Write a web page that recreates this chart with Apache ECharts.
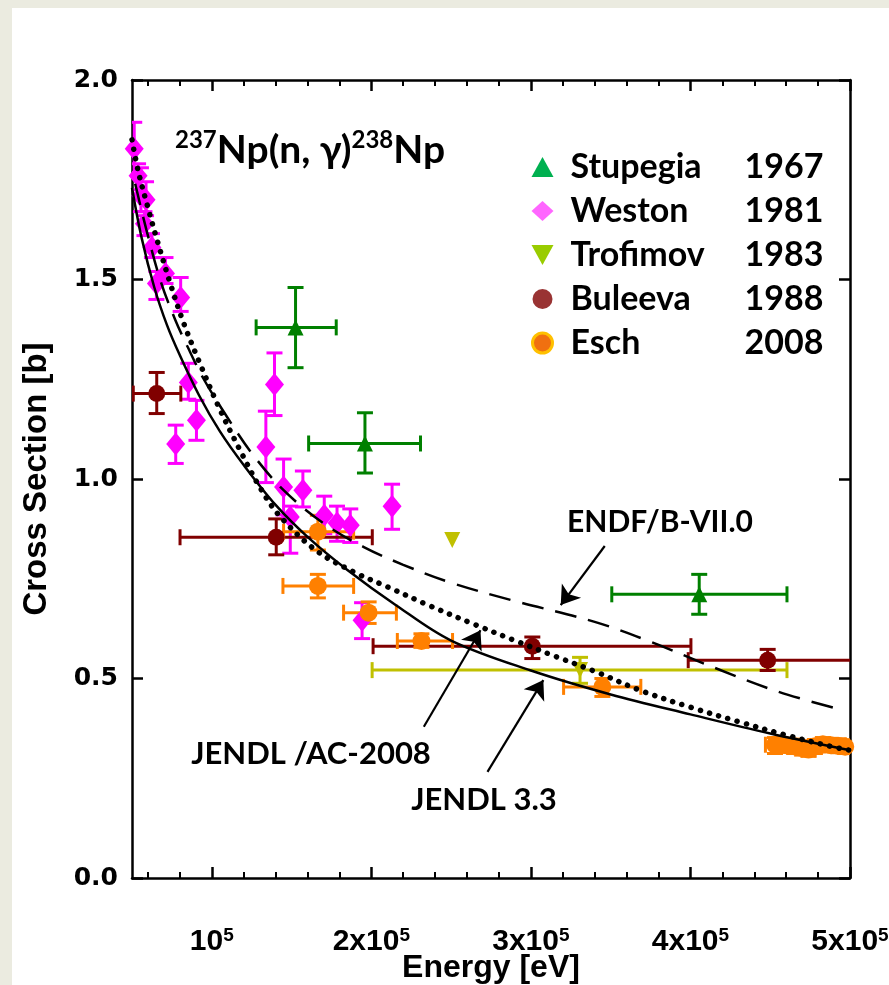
<!DOCTYPE html>
<html><head><meta charset="utf-8">
<script src="https://cdn.jsdelivr.net/npm/echarts@6/dist/echarts.min.js"></script>
<style>
html,body{margin:0;padding:0;background:#ebebe0;width:889px;height:985px;overflow:hidden;}
#bg{position:absolute;left:12px;top:8px;right:0;bottom:0;background:#fff;}
#chart{position:absolute;left:0;top:0;width:889px;height:985px;}
</style></head>
<body><div id="bg"></div><div id="chart"></div>
<script>
// ---- data ----
// [energy, sigma, xlo, xhi, ylo, yhi]
const stupegia = [
  [152500, 1.38, 127800, 178000, 1.279, 1.480],
  [196000, 1.089, 160700, 230800, 1.015, 1.166],
  [405500, 0.711, 350700, 460500, 0.661, 0.761]
];
// [energy, sigma, ylo, yhi]
const weston = [
  [51400, 1.828, 1.768, 1.894],
  [53800, 1.760, 1.725, 1.790],
  [55600, 1.710, 1.670, 1.780],
  [58800, 1.700, 1.660, 1.745],
  [57800, 1.640, 1.610, 1.670],
  [62500, 1.580, 1.555, 1.615],
  [65300, 1.490, 1.450, 1.520],
  [71000, 1.515, 1.490, 1.555],
  [80500, 1.455, 1.420, 1.505],
  [85300, 1.242, 1.200, 1.290],
  [90400, 1.147, 1.097, 1.197],
  [77400, 1.088, 1.039, 1.135],
  [139300, 1.237, 1.159, 1.316],
  [133900, 1.080, 0.991, 1.170],
  [145000, 0.980, 0.910, 1.050],
  [157100, 0.972, 0.930, 1.020],
  [149200, 0.905, 0.814, 0.932],
  [170500, 0.909, 0.863, 0.957],
  [178500, 0.890, 0.844, 0.932],
  [186800, 0.884, 0.841, 0.925],
  [213000, 0.932, 0.874, 0.987],
  [194200, 0.646, 0.600, 0.690]
];
const trofimov = [
  [250700, 0.847, 250700, 250700, 0.847, 0.847],
  [330800, 0.521, 200500, 460500, 0.488, 0.553]
];
const buleeva = [
  [65500, 1.214, 50800, 80600, 1.164, 1.267],
  [140400, 0.854, 80100, 200600, 0.810, 0.900],
  [300900, 0.581, 201100, 400300, 0.550, 0.604],
  [448400, 0.546, 398600, 505000, 0.520, 0.573]
];
const esch = [
  [166500, 0.868, 145000, 188900, 0.822, 0.909],
  [166500, 0.732, 144600, 188900, 0.702, 0.761],
  [198300, 0.665, 182600, 215700, 0.638, 0.692],
  [231400, 0.594, 216300, 250900, 0.578, 0.612],
  [344800, 0.479, 320500, 368900, 0.455, 0.500],
  [453000, 0.334, 447000, 458000, 0.312, 0.352],
  [460000, 0.333, 456000, 464000, 0.315, 0.350],
  [465000, 0.330, 461000, 469000, 0.312, 0.348],
  [470000, 0.326, 467000, 474000, 0.308, 0.344],
  [474000, 0.322, 470000, 478000, 0.305, 0.340],
  [478000, 0.330, 474000, 482000, 0.312, 0.347],
  [483000, 0.335, 479000, 487000, 0.318, 0.352],
  [488000, 0.333, 484000, 492000, 0.316, 0.350],
  [493000, 0.331, 489000, 497000, 0.314, 0.349],
  [497000, 0.329, 494000, 500000, 0.312, 0.346]
];
const jendl33 = [
  [50000, 1.73], [56000, 1.605], [64000, 1.48], [72000, 1.385], [80000, 1.31],
  [92000, 1.21], [105000, 1.12], [120000, 1.035], [140000, 0.935], [160000, 0.855],
  [185000, 0.772], [215000, 0.685], [250000, 0.595], [300000, 0.52], [350000, 0.46],
  [400000, 0.41], [450000, 0.362], [500000, 0.32]
];
const jendlAC = [
  [50000, 1.85], [54000, 1.77], [60000, 1.68], [66000, 1.595], [74000, 1.49],
  [82000, 1.395], [92000, 1.295], [105000, 1.175], [118000, 1.07], [130000, 0.98],
  [142000, 0.91], [165000, 0.822], [190000, 0.765], [210000, 0.73], [235000, 0.685],
  [265000, 0.635], [290000, 0.595], [315000, 0.556], [340000, 0.518], [370000, 0.468],
  [400000, 0.428], [430000, 0.392], [460000, 0.358], [490000, 0.328], [500000, 0.32]
];
const endf = [
  [52000, 1.74], [59000, 1.625], [68000, 1.495], [77000, 1.40], [85000, 1.33],
  [95000, 1.25], [110000, 1.153], [125000, 1.065], [145000, 0.972], [170000, 0.889],
  [195000, 0.83], [220000, 0.785], [250000, 0.74], [290000, 0.694], [340000, 0.642],
  [375000, 0.592], [415000, 0.527], [455000, 0.467], [495000, 0.421]
];
const legendNames = ['Stupegia', 'Weston', 'Trofimov', 'Buleeva', 'Esch'];
const legendYears = ['1967', '1981', '1983', '1988', '2008'];
const xMajorTicks = [100000, 200000, 300000, 400000, 500000];
const xMinorTicks = [60000, 80000, 120000, 140000, 160000, 180000, 220000, 240000, 260000, 280000,
  320000, 340000, 360000, 380000, 420000, 440000, 460000, 480000];

// ---- rendering ----
const chart = echarts.init(document.getElementById('chart'));
const AX = 'Liberation Sans';
const TXT = 'Lato, "DejaVu Sans", sans-serif';

function errRender(color, cap) {
  return function (params, api) {
    const x = api.value(0), y = api.value(1);
    const xl = api.value(2), xh = api.value(3), yl = api.value(4), yh = api.value(5);
    const st = { stroke: color, lineWidth: 3, fill: null };
    const ch = [];
    if (yl !== yh) {
      const a = api.coord([x, yl]), b = api.coord([x, yh]);
      ch.push({ type: 'line', shape: { x1: a[0], y1: a[1], x2: b[0], y2: b[1] }, style: st });
      ch.push({ type: 'line', shape: { x1: a[0] - cap, y1: a[1], x2: a[0] + cap, y2: a[1] }, style: st });
      ch.push({ type: 'line', shape: { x1: b[0] - cap, y1: b[1], x2: b[0] + cap, y2: b[1] }, style: st });
    }
    if (xl !== xh) {
      const a = api.coord([xl, y]), b = api.coord([xh, y]);
      ch.push({ type: 'line', shape: { x1: a[0], y1: a[1], x2: b[0], y2: b[1] }, style: st });
      ch.push({ type: 'line', shape: { x1: a[0], y1: a[1] - cap, x2: a[0], y2: a[1] + cap }, style: st });
      ch.push({ type: 'line', shape: { x1: b[0], y1: b[1] - cap, x2: b[0], y2: b[1] + cap }, style: st });
    }
    return { type: 'group', children: ch };
  };
}
function errSeries(name, data, color, cap) {
  return { type: 'custom', name: name + '-err', data: data, renderItem: errRender(color, cap),
    clip: true, z: 2, silent: true, encode: { x: 0, y: 1 } };
}
function ptSeries(name, data, color, symbol, size, rot) {
  return { type: 'scatter', name: name, data: data.map(d => [d[0], d[1]]), symbol: symbol,
    symbolSize: size, symbolRotate: rot || 0, itemStyle: { color: color, opacity: 1 }, z: 3, silent: true };
}
const westonErr = weston.map(d => [d[0], d[1], d[0], d[0], d[2], d[3]]);

const supFmt = v => {
  const m = Math.round(v / 100000);
  return (m === 1 ? '' : m + 'x') + '10{s|5}';
};
const xBase = { type: 'value', min: 50000, max: 500000, splitLine: { show: false } };
const lineCol = { lineStyle: { color: '#000', width: 2.5 } };

const legendColors = [
  { color: '#00b050' }, { color: '#ff66ff' }, { color: '#99cc00' }, { color: '#993333' },
  { color: '#f07010', borderColor: '#ffc000', borderWidth: 3 }
];
const legendIcons = ['triangle', 'diamond', 'path://M0,0 L10,0 L5,9 Z', 'circle', 'circle'];

const arrow = (a, b) => [{ coord: a, symbol: 'none' }, { coord: b, symbol: 'arrow' }];

chart.setOption({
  animation: false,
  grid: { left: 132, right: 39, top: 80, bottom: 107, outerBoundsMode: 'none', containLabel: false },
  xAxis: [
    Object.assign({}, xBase, { position: 'bottom', axisLine: Object.assign({ show: true }, lineCol),
      axisTick: { show: true, inside: true, length: 11, customValues: xMajorTicks, lineStyle: { color: '#000', width: 2.5 } },
      axisLabel: { show: true, customValues: xMajorTicks, margin: 48, formatter: supFmt,
        rich: { s: { fontSize: 19, fontWeight: 'bold', fontFamily: AX, verticalAlign: 'top', lineHeight: 19 } },
        fontSize: 30, fontWeight: 'bold', fontFamily: AX, color: '#000', lineHeight: 32 },
      name: 'Energy [eV]', nameLocation: 'middle', nameGap: 74, nameMoveOverlap: false,
      nameTextStyle: { fontSize: 32, fontWeight: 'bold', fontFamily: AX, color: '#000' } }),
    Object.assign({}, xBase, { position: 'bottom', axisLine: { show: false },
      axisTick: { show: true, inside: true, length: 6, customValues: xMinorTicks, lineStyle: { color: '#000', width: 2 } },
      axisLabel: { show: false } }),
    Object.assign({}, xBase, { position: 'top', axisLine: Object.assign({ show: true }, lineCol),
      axisTick: { show: true, inside: true, length: 11, customValues: xMajorTicks, lineStyle: { color: '#000', width: 2.5 } },
      axisLabel: { show: false } }),
    Object.assign({}, xBase, { position: 'top', axisLine: { show: false },
      axisTick: { show: true, inside: true, length: 6, customValues: xMinorTicks, lineStyle: { color: '#000', width: 2 } },
      axisLabel: { show: false } })
  ],
  yAxis: [
    { type: 'value', min: 0, max: 2, interval: 0.5, position: 'left', splitLine: { show: false },
      axisLine: Object.assign({ show: true }, lineCol),
      axisTick: { show: true, inside: true, length: 11, lineStyle: { color: '#000', width: 2.5 } },
      axisLabel: { formatter: v => v.toFixed(1), fontSize: 25, fontWeight: 'bold', fontFamily: 'DejaVu Sans', color: '#000', margin: 14 },
      name: 'Cross Section [b]', nameLocation: 'middle', nameGap: 79, nameRotate: 90, nameMoveOverlap: false,
      nameTextStyle: { fontSize: 33, fontWeight: 'bold', fontFamily: AX, color: '#000' } },
    { type: 'value', min: 0, max: 2, interval: 0.5, position: 'right', splitLine: { show: false },
      axisLine: Object.assign({ show: true }, lineCol),
      axisTick: { show: true, inside: true, length: 11, lineStyle: { color: '#000', width: 2.5 } },
      axisLabel: { show: false } }
  ],
  legend: {
    orient: 'vertical', left: 526, top: 145, itemWidth: 22, itemHeight: 20, itemGap: 10,
    selectedMode: false, icon: 'circle',
    data: legendNames.map((n, i) => ({ name: n, icon: legendIcons[i], itemStyle: legendColors[i] })),
    formatter: n => '{n|' + n + '}{y|' + legendYears[legendNames.indexOf(n)] + '}',
    textStyle: { fontFamily: TXT, fontWeight: 'bold', fontSize: 34, color: '#000', padding: [0, 0, 0, 12],
      rich: { n: { width: 174, fontFamily: TXT, fontWeight: 'bold', fontSize: 34, lineHeight: 34 },
              y: { fontFamily: TXT, fontWeight: 'bold', fontSize: 34, lineHeight: 34 } } }
  },
  series: [
    errSeries('Stupegia', stupegia, '#008000', 8),
    errSeries('Weston', westonErr, '#ff00ff', 8),
    errSeries('Trofimov', trofimov, '#c0c000', 8),
    errSeries('Buleeva', buleeva, '#800000', 8),
    errSeries('Esch', esch, '#ff8000', 8),
    ptSeries('Stupegia', stupegia, '#008000', 'triangle', 16),
    ptSeries('Weston', weston, '#ff00ff', 'diamond', [19, 23]),
    ptSeries('Trofimov', trofimov, '#c0c000', 'triangle', 16, 180),
    ptSeries('Buleeva', buleeva, '#800000', 'circle', 17),
    ptSeries('Esch', esch, '#ff8000', 'circle', 18),
    { type: 'line', name: 'JENDL 3.3', data: jendl33, smooth: 0.35, showSymbol: false,
      lineStyle: { color: '#000', width: 2.5 }, z: 6, silent: true,
      markLine: { silent: true, symbolSize: 18, lineStyle: { color: '#000', width: 2.2, type: 'solid' }, label: { show: false },
        data: [ arrow([346300, 0.832], [318700, 0.684]), arrow([232900, 0.379], [268400, 0.621]), arrow([272800, 0.266], [307800, 0.496]) ] } },
    { type: 'line', name: 'JENDL/AC-2008', data: jendlAC, smooth: 0.35, showSymbol: false,
      lineStyle: { color: '#000', width: 5.5, type: [0.1, 9.5], cap: 'round' }, z: 6, silent: true },
    { type: 'line', name: 'ENDF/B-VII.0', data: endf, smooth: 0.35, showSymbol: false,
      lineStyle: { color: '#000', width: 2.5, type: [22, 12] }, z: 6, silent: true }
  ],
  graphic: [
    { type: 'text', x: 175, y: 150, z: 100, style: {
      text: '{s|237}{m|Np(n, γ)}{s|238}{m|Np}', verticalAlign: 'middle', align: 'left',
      rich: { m: { fontSize: 39, fontWeight: 'bold', fontFamily: TXT, fill: '#000', lineHeight: 44 },
              s: { fontSize: 24, fontWeight: 'bold', fontFamily: TXT, fill: '#000', lineHeight: 24, verticalAlign: 'top' } } } },
    { type: 'text', x: 660, y: 522, z: 100, style: { text: 'ENDF/B-VII.0', fontSize: 30, fontWeight: 'bold', fontFamily: TXT, fill: '#000', align: 'center', verticalAlign: 'middle' } },
    { type: 'text', x: 311, y: 754, z: 100, style: { text: 'JENDL /AC-2008', fontSize: 31, fontWeight: 'bold', fontFamily: TXT, fill: '#000', align: 'center', verticalAlign: 'middle' } },
    { type: 'text', x: 484, y: 800, z: 100, style: { text: 'JENDL 3.3', fontSize: 31, fontWeight: 'bold', fontFamily: TXT, fill: '#000', align: 'center', verticalAlign: 'middle' } }
  ]
});
</script></body></html>
